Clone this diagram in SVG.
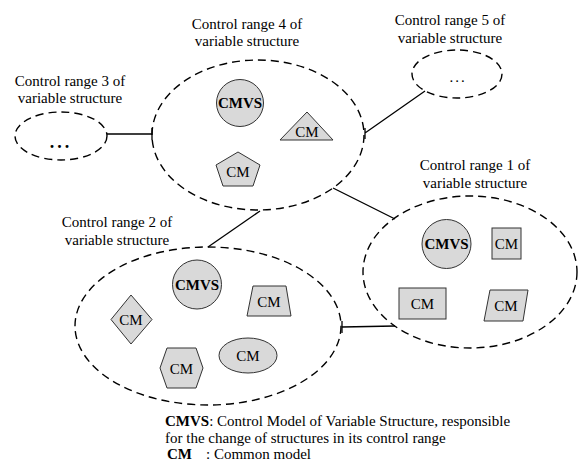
<svg xmlns="http://www.w3.org/2000/svg" width="580" height="465" viewBox="0 0 580 465">
<style>
text{font-family:'Liberation Serif','Times New Roman','DejaVu Serif',serif;font-size:15px;fill:#000}
.lbl{text-anchor:middle}
.c{text-anchor:middle}
.b{font-weight:bold}
.range{fill:none;stroke:#000;stroke-width:1.4;stroke-dasharray:8 5}
.shape{fill:#d9d9d9;stroke:#333;stroke-width:1}
.conn{fill:none;stroke:#000;stroke-width:1.3}
</style>
<rect width="580" height="465" fill="#fff"/>

<g id="connectors">
<path class="conn" d="M107,134 H152 M152,128 V140"/>
<path class="conn" d="M425,91 L365,133 M365,128 V139"/>
<path class="conn" d="M333,188 L395,219"/>
<path class="conn" d="M260,211 L208,247"/>
<path class="conn" d="M395,326 L342,327 M342,321 V333"/>
</g>

<g id="range3">
<text class="lbl" x="70" y="86" font-family="Liberation Serif, serif">Control range 3 of</text>
<text class="lbl" x="70" y="103">variable structure</text>
<ellipse class="range" cx="61" cy="136" rx="46" ry="24"/>
<text class="c b" x="61" y="148" style="font-size:18px;letter-spacing:3px">...</text>
</g>

<g id="range4">
<text class="lbl" x="247" y="29">Control range 4 of</text>
<text class="lbl" x="247" y="46">variable structure</text>
<ellipse class="range" cx="258" cy="135" rx="106" ry="75"/>
<g id="r4-cmvs"><circle class="shape" cx="240" cy="103" r="23.5"/><text class="c b" x="240" y="108">CMVS</text></g>
<g id="r4-tri"><polygon class="shape" points="280,140 333,140 307,112"/><text class="c" x="307" y="137">CM</text></g>
<g id="r4-pent"><polygon class="shape" points="238,152 260,165 253,186 223,186 216,165"/><text class="c" x="238" y="177">CM</text></g>
</g>

<g id="range5">
<text class="lbl" x="450" y="25">Control range 5 of</text>
<text class="lbl" x="450" y="43">variable structure</text>
<ellipse class="range" cx="457" cy="74" rx="45" ry="24"/>
<text class="c" x="458" y="82" style="letter-spacing:2px">...</text>
</g>

<g id="range1">
<text class="lbl" x="475" y="170">Control range 1 of</text>
<text class="lbl" x="475" y="188">variable structure</text>
<ellipse class="range" cx="470" cy="272" rx="107" ry="76"/>
<g id="r1-cmvs"><circle class="shape" cx="446.5" cy="244" r="24.5"/><text class="c b" x="446.5" y="249">CMVS</text></g>
<g id="r1-sq"><rect class="shape" x="492" y="228" width="29" height="31"/><text class="c" x="506.5" y="249">CM</text></g>
<g id="r1-rect"><rect class="shape" x="399" y="288" width="47" height="31"/><text class="c" x="422.5" y="309">CM</text></g>
<g id="r1-para"><polygon class="shape" points="490,290 528,290 523,321 484,321"/><text class="c" x="506" y="311">CM</text></g>
</g>

<g id="range2">
<text class="lbl" x="117" y="227">Control range 2 of</text>
<text class="lbl" x="117" y="245">variable structure</text>
<ellipse class="range" cx="208" cy="326" rx="133" ry="79"/>
<g id="r2-cmvs"><circle class="shape" cx="197" cy="284.5" r="24.5"/><text class="c b" x="197" y="290">CMVS</text></g>
<g id="r2-dia"><polygon class="shape" points="131,295 152,319.5 131,344 111,319.5"/><text class="c" x="131" y="325">CM</text></g>
<g id="r2-trap"><polygon class="shape" points="253,286 286,286 291,316 247,316"/><text class="c" x="269" y="307">CM</text></g>
<g id="r2-hex"><polygon class="shape" points="167,348 196,348 203,368 196,388 167,388 160,368"/><text class="c" x="181.5" y="374">CM</text></g>
<g id="r2-ell"><ellipse class="shape" cx="248" cy="355.5" rx="29" ry="17.5"/><text class="c" x="248" y="361">CM</text></g>
</g>

<g id="legend">
<text x="165" y="426"><tspan class="b">CMVS</tspan>: Control Model of Variable Structure, responsible</text>
<text x="165" y="443">for the change of structures in its control range</text>
<text x="167" y="459" class="b">CM</text>
<text x="206" y="459">: Common model</text>
</g>
</svg>
